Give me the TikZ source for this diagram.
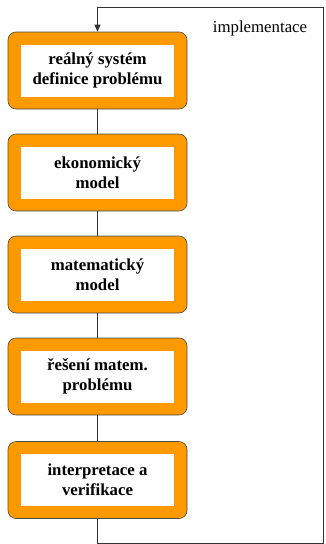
\documentclass[tikz,border=0pt]{standalone}
\usepackage{fontspec}
\setmainfont{Liberation Serif}
\usetikzlibrary{arrows.meta}
\definecolor{orng}{HTML}{FF9900}
\begin{document}
\begin{tikzpicture}[x=1pt,y=-1pt,
  outer/.style={draw=black!70,line width=0.6pt,fill=orng,rounded corners=8pt,minimum width=179pt,minimum height=77pt},
  inner/.style={fill=white,minimum width=153pt,minimum height=52pt,align=center,font=\bfseries\fontsize{16.8}{20}\selectfont},
  conn/.style={draw=black!80,line width=0.6pt}]
\useasboundingbox (0,0) rectangle (325,544);
\foreach \i/\y in {1/70.5,2/172.5,3/274.5,4/376.5,5/480}{
  \node[outer] (o\i) at (97.5,\y) {};
}
\node[inner] (b1) at (o1) {reálný systém\\definice problému};
\node[inner] (b2) at (o2) {ekonomický\\model};
\node[inner] (b3) at (o3) {matematický\\model};
\node[inner] (b4) at (o4) {řešení matem.\\problému};
\node[inner] (b5) at (o5) {interpretace a\\verifikace};
\draw[conn] (o1) -- (o2);
\draw[conn] (o2) -- (o3);
\draw[conn] (o3) -- (o4);
\draw[conn] (o4) -- (o5);
\coordinate (c1) at (97.5,543);
\coordinate (c2) at (323.5,543);
\coordinate (c3) at (323.5,7);
\coordinate (c4) at (97.5,7);
\draw[conn,-{Triangle[length=7pt,width=6pt]}] (o5.south) -- (c1) -- (c2) -- (c3) -- (c4) -- (o1.north);
\node[font=\fontsize{16.8}{20}\selectfont,anchor=center] (impl) at (260,28) {implementace};
\end{tikzpicture}
\end{document}
